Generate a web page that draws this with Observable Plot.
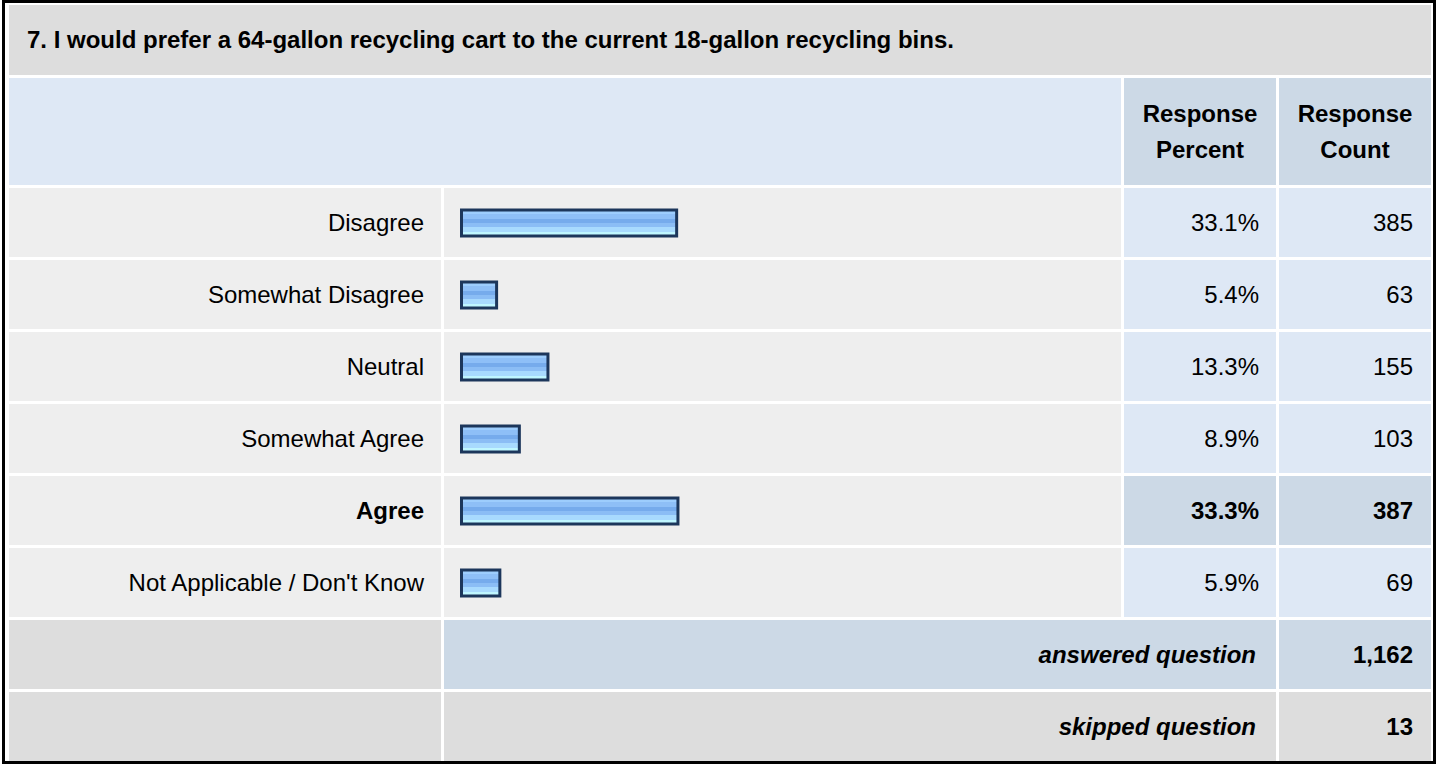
<!DOCTYPE html>
<html><head><meta charset="utf-8">
<script src="https://cdn.jsdelivr.net/npm/d3@7"></script>
<script src="https://cdn.jsdelivr.net/npm/@observablehq/plot@0.6"></script>
<style>
html,body{margin:0;padding:0;width:1437px;height:766px;overflow:hidden;background:#fff;
  font-family:"Liberation Sans",Arial,Helvetica,sans-serif;color:#000;}
#frame{position:absolute;left:2px;top:0;width:1434px;height:764px;box-sizing:border-box;border:3px solid #000;}
.cell{position:absolute;box-sizing:border-box;display:flex;align-items:center;font-size:24px;white-space:nowrap;}
.r{justify-content:flex-end;}
.c{justify-content:center;text-align:center;}
.b{font-weight:bold;}
.i{font-style:italic;}
#plot{position:absolute;left:0;top:0;pointer-events:none;}
</style></head>
<body>
<div id="frame"></div>
<div id="cells"></div>
<div id="plot"></div>
<script>
// ---- data ----
const title = "7. I would prefer a 64-gallon recycling cart to the current 18-gallon recycling bins.";
const headers = ["Response<br>Percent", "Response<br>Count"];
const categories = ["Disagree", "Somewhat Disagree", "Neutral", "Somewhat Agree", "Agree", "Not Applicable / Don't Know"];
const percents = [33.1, 5.4, 13.3, 8.9, 33.3, 5.9];
const counts = [385, 63, 155, 103, 387, 69];
const footerLabels = ["answered question", "skipped question"];
const footerValues = [1162, 13];

// ---- layout ----
const cols = {label: [9, 432], bar: [444, 677], pct: [1124, 152], cnt: [1279, 152]};
const full = [9, 1422];
const rowH = 69, pitch = 72, dataTop = 188;
const C = {grey: "#dddddd", light: "#eeeeee", blue: "#dee8f5", blue2: "#ccd9e6"};
const host = document.getElementById("cells");
function cell(xw, y, h, bg, html, cls, style) {
  const d = document.createElement("div");
  d.className = "cell " + (cls || "");
  d.style.left = xw[0] + "px"; d.style.width = xw[1] + "px";
  d.style.top = y + "px"; d.style.height = h + "px";
  d.style.background = bg;
  if (style) Object.assign(d.style, style);
  d.innerHTML = html || "";
  host.appendChild(d);
  return d;
}
// title
cell(full, 5, 70, C.grey, title, "b", {paddingLeft: "18px"});
// header
cell([9, 1112], 78, 107, C.blue, "");
cell(cols.pct, 78, 107, C.blue2, headers[0], "b c", {lineHeight: "36px"});
cell(cols.cnt, 78, 107, C.blue2, headers[1], "b c", {lineHeight: "36px"});
// data rows
const maxI = counts.indexOf(d3.max(counts));
categories.forEach((cat, i) => {
  const y = dataTop + pitch * i;
  const hi = i === maxI;
  cell(cols.label, y, rowH, C.light, cat, "r" + (hi ? " b" : ""), {paddingRight: "17px"});
  cell(cols.bar, y, rowH, C.light, "");
  cell(cols.pct, y, rowH, hi ? C.blue2 : C.blue, percents[i].toFixed(1) + "%", "r" + (hi ? " b" : ""), {paddingRight: "17px"});
  cell(cols.cnt, y, rowH, hi ? C.blue2 : C.blue, d3.format(",")(counts[i]), "r" + (hi ? " b" : ""), {paddingRight: "18px"});
});
// footer rows
footerLabels.forEach((lab, j) => {
  const y = dataTop + pitch * categories.length + pitch * j;
  const bg = j === 0 ? C.blue2 : C.grey;
  cell(cols.label, y, rowH, C.grey, "");
  cell([444, 832], y, rowH, bg, lab, "r b i", {paddingRight: "20px"});
  cell(cols.cnt, y, rowH, bg, d3.format(",")(footerValues[j]), "r b", {paddingRight: "18px"});
});

// ---- bars with Plot ----
const data = categories.map((c, i) => ({category: c, percent: percents[i]}));
const chart = Plot.plot({
  width: 1437, height: 766,
  marginLeft: 461.5, marginRight: 325.5, marginTop: 0, marginBottom: 0,
  x: {domain: [0, 100], axis: null},
  y: {domain: categories, range: [186.5, 618.5], padding: 0, axis: null},
  style: {background: "transparent", overflow: "visible"},
  marks: [
    Plot.barX(data, {x: "percent", y: "category", fill: "url(#barGrad)", stroke: "#1c365b",
      strokeWidth: 3, insetTop: 23, insetBottom: 23})
  ]
});
const grad = d3.select(chart).insert("defs", ":first-child").append("linearGradient")
  .attr("id", "barGrad").attr("x1", 0).attr("y1", 0).attr("x2", 0).attr("y2", 1);
const stripes = ["#9dcdfd", "#8ebff7", "#76abec", "#8bbdf5", "#a8dafe", "#bff6ff"];
stripes.forEach((col, k) => {
  grad.append("stop").attr("offset", k / stripes.length).attr("stop-color", col);
  grad.append("stop").attr("offset", (k + 1) / stripes.length).attr("stop-color", col);
});
document.getElementById("plot").appendChild(chart);
</script>
</body></html>
